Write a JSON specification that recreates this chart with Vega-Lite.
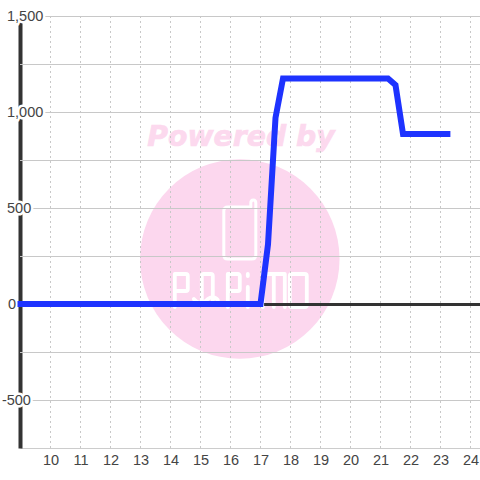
{
"$schema":"https://vega.github.io/schema/vega-lite/v6.json",
"width":460,"height":432,"autosize":"none",
"padding":{"left":20,"top":16,"right":0,"bottom":32},
"background":"white",
"config":{"view":{"stroke":null}},
"datasets":{
"power":[{"h":8.9,"v":0},{"h":10,"v":0},{"h":11,"v":0},{"h":12,"v":0},{"h":13,"v":0},{"h":14,"v":0},{"h":15,"v":0},{"h":16,"v":0},{"h":17,"v":0},{"h":17.25,"v":310},{"h":17.5,"v":970},{"h":17.75,"v":1175},{"h":18,"v":1175},{"h":19,"v":1175},{"h":20,"v":1175},{"h":21,"v":1175},{"h":21.25,"v":1175},{"h":21.5,"v":1140},{"h":21.75,"v":885},{"h":22,"v":885},{"h":23,"v":885},{"h":23.33,"v":885}],
"labels":[{"h":8.55,"v":1500,"t":"1,500"},{"h":8.55,"v":1000,"t":"1,000"},{"h":8.55,"v":500,"t":"500"},{"h":8.58,"v":0,"t":"0"},{"h":8.38,"v":-500,"t":"-500"}],
"hgrid":[{"v":1500},{"v":1250},{"v":1000},{"v":750},{"v":500},{"v":250},{"v":-250},{"v":-500}],
"vgrid":[{"h":10},{"h":11},{"h":12},{"h":13},{"h":14},{"h":15},{"h":16},{"h":17},{"h":18},{"h":19},{"h":20},{"h":21},{"h":22},{"h":23},{"h":24}],
"logo":[{"h":16.31,"v":237}],
"title":[{"h":16.35,"v":823,"t":"Powered by"}],
"zero":[{"h":17.12,"h2":24.32,"v":0}]
},
"encoding":{
 "x":{"field":"h","type":"quantitative","scale":{"domain":[8.9833,24.3167],"nice":false,"zero":false},
   "axis":{"values":[10,11,12,13,14,15,16,17,18,19,20,21,22,23,24],"grid":false,"ticks":false,"title":null,"labelFont":"Liberation Sans","labelFontSize":14.5,"labelColor":"#444444","labelPadding":5,"labelAngle":0,"domainColor":"#cccccc","domainWidth":1,"labelFlush":false,"labelOverlap":false}},
 "y":{"field":"v","type":"quantitative","scale":{"domain":[-747.4,1502.6],"nice":false,"zero":false},
   "axis":{"values":[],"labels":false,"ticks":false,"grid":false,"title":null,"domainColor":"#333333","domainWidth":4}}
},
"layer":[
{"data":{"name":"logo"},"mark":{"type":"point","shape":"circle","filled":true,"fill":"#FCD7EE","opacity":1,"size":39800,"strokeWidth":0}},
{"data":{"name":"logo"},"mark":{"type":"point","filled":false,"stroke":"white","strokeWidth":3,"opacity":1,"size":4,"strokeCap":"round","strokeJoin":"round",
 "shape":"M11,-52 L-12,-52 Q-16,-52 -16,-48 L-16,-4 Q-16,0 -12,0 L12,0 Q16,0 16,-4 L16,-56 Q16,-59 13.5,-59 Q11,-59 11,-56 L11,-52"}},
{"data":{"name":"logo"},"mark":{"type":"point","filled":false,"stroke":"white","strokeWidth":3.8,"opacity":1,"size":4,"strokeCap":"round","strokeJoin":"round",
 "shape":"M-65,48 L-65,15 L-54,15 Q-52,15 -52,17 L-52,30 Q-52,32 -54,32 L-65,32 M-38,42 L-38,17 Q-38,15 -36,15 L-29,15 Q-27,15 -27,17 L-27,42 M-46,40 Q-40,48 -32,40 Q-26,36 -22,41 M-12,48 L-12,15 L-2,15 Q0,15 0,17 L0,30 Q0,32 -2,32 L-12,32 M8,28 L8,48 M8,15 L8,17 M23,48 L23,15 L45,15 L45,48 M34,15 L34,48 M50,17 Q50,15 52,15 L65,15 Q67,15 67,17 L67,46 Q67,48 65,48 L52,48 Q50,48 50,46 Z"}},
{"data":{"name":"title"},"mark":{"type":"text","font":"DejaVu Sans","fontWeight":"bold","fontStyle":"italic","fontSize":28.3,"color":"#FCD9EE","stroke":"#FCD9EE","strokeWidth":0.7,"align":"center","baseline":"alphabetic"},
 "encoding":{"text":{"field":"t"}}},
{"data":{"name":"hgrid"},"mark":{"type":"rule","color":"#c8c8c8","strokeWidth":1},"encoding":{"x":null}},
{"data":{"name":"vgrid"},"mark":{"type":"rule","color":"#c8c8c8","strokeWidth":1,"strokeDash":[2,3]},"encoding":{"y":null}},
{"data":{"name":"zero"},"mark":{"type":"rule","color":"#333333","strokeWidth":3},"encoding":{"x2":{"field":"h2"}}},
{"data":{"name":"labels"},"mark":{"type":"text","font":"Liberation Sans","fontSize":14.5,"align":"left","baseline":"middle","dy":0.5,"stroke":"white","strokeWidth":5,"color":"white"},
 "encoding":{"text":{"field":"t"}}},
{"data":{"name":"power"},"mark":{"type":"line","color":"#1E33FF","strokeWidth":6,"strokeJoin":"miter","strokeCap":"butt","interpolate":"linear","yOffset":-0.5}},
{"data":{"name":"labels"},"mark":{"type":"text","font":"Liberation Sans","fontSize":14.5,"align":"left","baseline":"middle","dy":0.5,"color":"#444444"},
 "encoding":{"text":{"field":"t"}}}
]
}
